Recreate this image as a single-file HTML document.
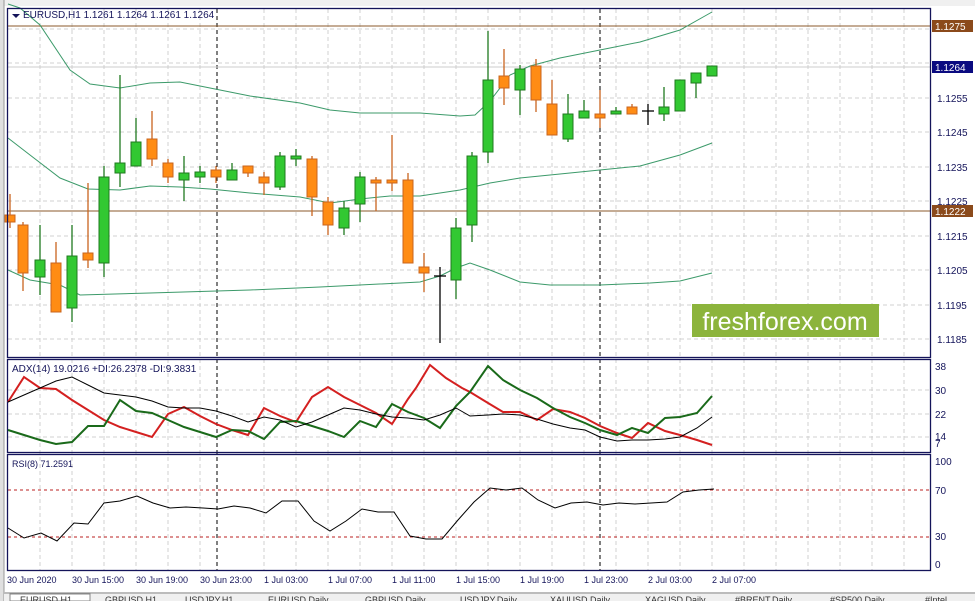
<!DOCTYPE html>
<html><head><meta charset="utf-8"><style>
body{margin:0;background:#fff;width:975px;height:601px;overflow:hidden;font-family:"Liberation Sans",sans-serif}
svg text{font-family:"Liberation Sans",sans-serif}
</style></head><body>
<svg width="975" height="601" viewBox="0 0 975 601" xmlns="http://www.w3.org/2000/svg">
<rect width="975" height="601" fill="#fff"/>
<rect x="0" y="0" width="975" height="6" fill="#f0f0f0"/>
<rect x="0" y="0" width="4" height="601" fill="#e0e0e0"/>
<line x1="4" y1="0" x2="4" y2="601" stroke="#999"/>
<g stroke="#d0d0d0" stroke-dasharray="4,3" stroke-width="1">
<line x1="8" x2="930" y1="29" y2="29"/><line x1="8" x2="930" y1="63" y2="63"/><line x1="8" x2="930" y1="98" y2="98"/><line x1="8" x2="930" y1="132" y2="132"/><line x1="8" x2="930" y1="167" y2="167"/><line x1="8" x2="930" y1="201" y2="201"/><line x1="8" x2="930" y1="236" y2="236"/><line x1="8" x2="930" y1="270" y2="270"/><line x1="8" x2="930" y1="305" y2="305"/><line x1="8" x2="930" y1="339" y2="339"/>
<line x1="8" x2="930" y1="390" y2="390"/><line x1="8" x2="930" y1="414" y2="414"/><line x1="8" x2="930" y1="437" y2="437"/>
</g>
<g id="vg" stroke="#d0d0d0" stroke-dasharray="4,3"></g>
<g stroke="#000" stroke-dasharray="4,3"><line x1="217" x2="217" y1="9" y2="570"/><line x1="600" x2="600" y1="9" y2="570"/></g>
<g stroke="#b22" stroke-dasharray="3,3"><line x1="8" x2="930" y1="490" y2="490"/><line x1="8" x2="930" y1="537" y2="537"/></g>
<line x1="8" x2="930" y1="26" y2="26" stroke="#8b5a2b"/>
<line x1="8" x2="930" y1="211" y2="211" stroke="#8b5a2b"/>
<line x1="8" x2="930" y1="67" y2="67" stroke="#ccc"/>
<g fill="none" stroke="#3c9a6a" stroke-width="1">
<polyline points="8,4 20,8 40,25 70,70 90,84 120,88 150,83 180,82 210,88 250,96 300,103 330,110 360,113 420,113 460,116 475,115 490,101 510,75 530,66 560,58 600,50 640,42 680,30 712,12"/>
<polyline points="8,138 30,155 60,178 88,189 120,190 150,186 180,187 210,189 250,193 300,197 330,203 360,199 390,196 420,196 460,190 490,183 520,178 580,172 640,166 680,155 712,143"/>
<polyline points="8,270 30,280 60,285 80,295 150,293 250,290 320,287 420,282 440,276 456,268 470,263 490,270 520,282 550,285 600,285 650,283 680,281 712,273"/>
</g>
<g id="candles"></g>
<rect x="692" y="304" width="187" height="33" fill="#8cb43c"/>
<text x="785" y="330" font-size="25" fill="#fff" text-anchor="middle">freshforex.com</text>
<g fill="none" stroke="#14145a" stroke-width="1.3">
<rect x="7.5" y="8.5" width="923" height="349"/>
<rect x="7.5" y="359.5" width="923" height="93"/>
<rect x="7.5" y="454.5" width="923" height="116"/>
</g>
<path d="M12,14 l8,0 l-4,4z" fill="#14145a"/>
<text x="23" y="18" font-size="10" fill="#14145a">EURUSD,H1  1.1261 1.1264 1.1261 1.1264</text>
<text x="12" y="372" font-size="10" fill="#14145a">ADX(14) 19.0216 +DI:26.2378 -DI:9.3831</text>
<text x="12" y="467" font-size="9" fill="#14145a">RSI(8) 71.2591</text>
<g font-size="10" fill="#14145a">
<text x="937" y="102">1.1255</text><text x="937" y="136">1.1245</text><text x="937" y="171">1.1235</text><text x="937" y="205">1.1225</text><text x="937" y="240">1.1215</text><text x="937" y="274">1.1205</text><text x="937" y="309">1.1195</text><text x="937" y="343">1.1185</text>
<text x="935" y="370">38</text><text x="935" y="394">30</text><text x="935" y="418">22</text><text x="935" y="440">14</text><text x="935" y="447">7</text>
<text x="935" y="465">100</text><text x="935" y="494">70</text><text x="935" y="540">30</text><text x="935" y="568">0</text>
</g>
<rect x="932" y="20" width="41" height="12" fill="#8b4a1b"/><text x="935" y="30" font-size="10" fill="#fff">1.1275</text>
<rect x="932" y="61" width="41" height="12" fill="#0a0a80"/><text x="935" y="71" font-size="10" fill="#fff">1.1264</text>
<rect x="932" y="205" width="41" height="12" fill="#8b4a1b"/><text x="935" y="215" font-size="10" fill="#fff">1.1222</text>
<g fill="none" stroke-width="2">
<polyline stroke="#d42020" points="8,402 24,377 40,388 56,389 72,400 88,410 104,420 120,427 136,432 152,437 168,414 184,407 200,416 216,424 232,430 248,435 264,408 280,416 296,422 312,397 328,387 344,397 360,405 376,413 392,424 408,399 416,388 430,365 446,378 462,388 470,392 488,403 503,412 520,412 537,420 553,409 570,412 585,418 600,426 617,433 632,438 648,423 665,431 680,435 697,440 712,445"/>
<polyline stroke="#1a6a1a" points="8,430 24,435 40,440 56,444 72,442 88,426 104,426 120,400 136,411 152,413 168,420 184,427 200,432 216,437 232,430 248,431 264,439 280,422 296,421 312,426 328,431 344,437 360,421 376,427 392,404 408,412 424,418 440,428 456,406 470,392 488,366 503,380 520,390 537,398 553,408 570,417 585,423 600,430 617,435 632,428 648,433 665,418 680,417 697,413 712,396"/>
</g>
<polyline fill="none" stroke="#000" stroke-width="1" points="8,402 24,395 40,388 56,381 72,377 88,385 104,393 120,395 136,397 152,401 168,407 184,408 200,408 216,411 232,416 248,422 264,417 280,420 296,427 312,422 328,415 344,408 360,410 376,414 392,417 408,418 424,420 440,415 456,408 470,416 488,415 503,414 520,415 537,419 553,424 570,428 585,430 600,437 617,441 632,440 648,440 665,439 680,437 697,428 712,417"/>
<polyline fill="none" stroke="#000" stroke-width="1" points="8,528 24,538 41,533 57,541 74,523 88,524 104,503 120,501 137,496 153,503 170,508 186,507 203,508 218,509 234,506 250,508 266,513 282,501 298,501 314,521 330,531 346,521 362,509 378,512 394,512 410,536 426,539 442,539 458,520 474,502 490,488 506,490 522,488 538,500 555,508 571,503 587,502 603,505 619,503 635,504 651,503 667,502 683,492 699,490 714,489"/>
<g font-size="9" fill="#14145a">
<text x="7" y="583">30 Jun 2020</text><text x="72" y="583">30 Jun 15:00</text><text x="136" y="583">30 Jun 19:00</text><text x="200" y="583">30 Jun 23:00</text><text x="264" y="583">1 Jul 03:00</text><text x="328" y="583">1 Jul 07:00</text><text x="392" y="583">1 Jul 11:00</text><text x="456" y="583">1 Jul 15:00</text><text x="520" y="583">1 Jul 19:00</text><text x="584" y="583">1 Jul 23:00</text><text x="648" y="583">2 Jul 03:00</text><text x="712" y="583">2 Jul 07:00</text>
</g>
<rect x="4" y="592" width="971" height="9" fill="#f0f0f0"/>
<line x1="4" x2="975" y1="593" y2="593" stroke="#888"/>
<rect x="10" y="594" width="80" height="7" fill="#fff" stroke="#888"/>
<g font-size="9" fill="#333"><text x="20" y="603">EURUSD,H1</text><text x="105" y="603">GBPUSD,H1</text><text x="185" y="603">USDJPY,H1</text><text x="268" y="603">EURUSD,Daily</text><text x="365" y="603">GBPUSD,Daily</text><text x="460" y="603">USDJPY,Daily</text><text x="550" y="603">XAUUSD,Daily</text><text x="645" y="603">XAGUSD,Daily</text><text x="735" y="603">#BRENT,Daily</text><text x="830" y="603">#SP500,Daily</text><text x="925" y="603">#Intel</text></g>
</svg>
<script>
var vg=document.getElementById('vg'),s='';
for(var x=40;x<930;x+=32){if(x==232)continue;s+='<line x1="'+x+'" x2="'+x+'" y1="9" y2="570"/>';}
vg.innerHTML=s;
var C=[[10,215,222,194,228],[23,225,273,222,291],[40,277,260,225,295],[56,263,312,242,312],[72,308,256,225,322],[88,253,260,183,268],[104,263,177,166,277],[120,173,163,75,187],[136,166,142,118,166],[152,139,159,111,166],[168,163,177,159,183],[184,180,173,156,201],[200,177,172,166,183],[216,170,177,166,183],[232,180,170,163,180],[248,166,173,166,177],[264,177,183,172,195],[280,187,156,152,190],[296,159,156,149,166],[312,159,197,156,216],[328,202,225,197,235],[344,228,208,201,235],[360,204,177,172,222],[376,180,183,177,211],[392,180,183,135,191],[408,180,263,173,263],[424,267,273,253,292],[440,276,276,267,343],[456,280,228,218,299],[472,225,156,152,242],[488,152,80,31,163],[504,76,88,49,105],[520,90,69,65,115],[536,66,100,59,112],[552,104,135,80,135],[568,139,114,94,142],[584,118,111,100,118],[600,114,118,90,128],[616,114,111,107,114],[632,107,114,104,114],[648,111,111,104,125],[664,114,107,87,121],[680,111,80,80,111],[696,83,73,73,98],[712,76,66,66,76]];
var h='';
C.forEach(function(c){var x=c[0],o=c[1],cl=c[2],t=Math.min(o,cl),b=Math.max(o,cl);
var up=cl<o,dj=o==cl;var f=dj?'#000':(up?'#32c832':'#ff8c14'),st=dj?'#000':(up?'#1f7a1f':'#c8641e');
h+='<line x1="'+x+'" x2="'+x+'" y1="'+c[3]+'" y2="'+c[4]+'" stroke="'+st+'" stroke-width="1.3"/>';
if(dj)h+='<line x1="'+(x-6)+'" x2="'+(x+6)+'" y1="'+o+'" y2="'+o+'" stroke="#000" stroke-width="1.3"/>';
else h+='<rect x="'+(x-5)+'" y="'+t+'" width="10" height="'+Math.max(b-t,2)+'" fill="'+f+'" stroke="'+st+'"/>';});
document.getElementById('candles').innerHTML=h;
</script>
</body></html>
